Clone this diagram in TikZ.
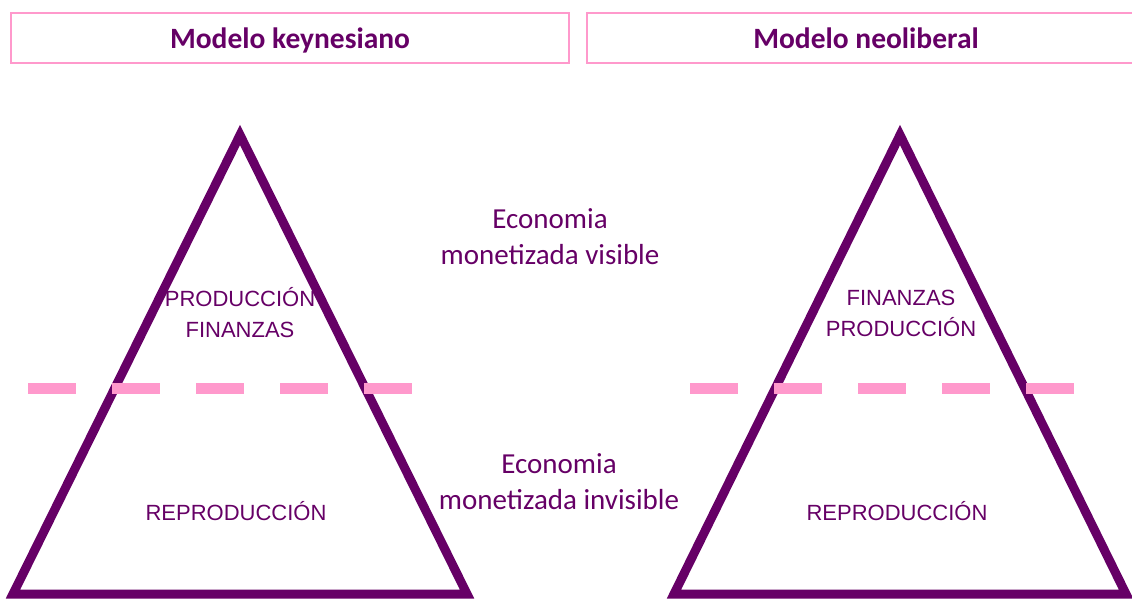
\documentclass[tikz,border=0pt]{standalone}
\usepackage{fontspec}
\setmainfont{Carlito}
\newfontfamily\arialfont{Liberation Sans}
\definecolor{morado}{HTML}{660066}
\definecolor{rosa}{HTML}{FF99CC}
\tikzset{
  caja/.style={draw=rosa, line width=1.5pt, minimum width=558pt, minimum height=50pt,
    text height=22pt, text depth=1pt,
    text=morado, font=\fontsize{29.5}{34}\selectfont\bfseries},
  piramide/.style={draw=morado, line width=9pt, line join=miter},
  corte/.style={draw=rosa, line width=11pt, dash pattern=on 48pt off 36pt},
  economia/.style={text=morado, align=center, inner sep=0pt, font=\fontsize{29}{36}\selectfont},
  nivel/.style={text=morado, align=center, inner sep=0pt, font=\arialfont\fontsize{22}{31}\selectfont},
}
\begin{document}
\begin{tikzpicture}[x=1pt,y=-1pt]
  \useasboundingbox (0,0) rectangle (1132,599);
  \def\piramideK{(240,135) -- (467,594) -- (13,594) -- cycle}
  \def\piramideN{(900,135) -- (1126,594) -- (674,594) -- cycle}
  \node[caja] (keynes) at (290,38) {Modelo keynesiano};
  \node[caja] (neolib) at (866,38) {Modelo neoliberal};
  \draw[piramide] \piramideK;
  \draw[piramide] \piramideN;
  \draw[corte] (28,388) -- (412,388);%linea de separacion
  \draw[corte] (690,388) -- (1074,388);
  \node[economia] (visible) at (550,237) {Economia\\monetizada visible};
  \node[economia] (invisible) at (559,482) {Economia\\monetizada invisible};
  \node[nivel] (altoK) at (240,313) {PRODUCCIÓN\\FINANZAS};
  \node[nivel] (bajoK) at (236,511) {REPRODUCCIÓN};
  \node[nivel] (altoN) at (901,313) {FINANZAS\\PRODUCCIÓN};
  \node[nivel] (bajoN) at (897,511) {REPRODUCCIÓN};
\end{tikzpicture}
\end{document}
